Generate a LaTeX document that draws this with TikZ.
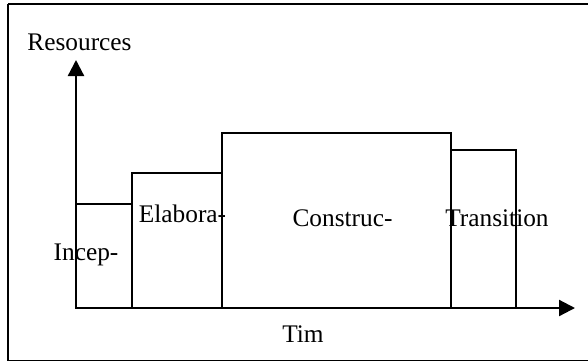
\documentclass[tikz,border=0pt]{standalone}
\usepackage{fontspec}
\setmainfont{Liberation Serif}
\usetikzlibrary{arrows.meta}
\begin{document}
\begin{tikzpicture}[x=0.75pt,y=-0.75pt,
  lbl/.style={anchor=base,inner sep=0pt,font=\fontsize{19}{22}\selectfont},
  phase/.style={draw=black,line width=1.3pt},
  axis/.style={line width=1.7pt,-{Triangle[length=12pt,width=12pt]}}]
\useasboundingbox (0,0) rectangle (588,362);
\begin{scope}
\clip (0,0) rectangle (588,362);
\draw[line width=0.9pt] (8,4) -- (8,360.5) -- (600,360.5);
\draw[line width=1.4pt] (600,4) -- (7.5,4);
\end{scope}
% phase bars
\draw[phase] (76,308) rectangle (132,204);
\draw[phase] (132,308) rectangle (222,173);
\draw[phase] (222,308) rectangle (451,133);
\draw[phase] (451,308) rectangle (516,150);
% axes
\coordinate (o) at (76,308);
\coordinate (ytip) at (76,60);
\coordinate (xtip) at (575,308);
\draw[axis] (o) -- (ytip);
\draw[axis] (o) -- (xtip);
% labels
\node[lbl] (res) at (79.5,50) {Resources};
\node[lbl] (inc) at (86,260) {Incep-};
\node[lbl] (ela) at (182.5,222) {Elabora-};
\node[lbl] (con) at (342.5,226) {Construc-};
\node[lbl] (tra) at (497,226) {Transition};
\node[lbl] (tim) at (303,342) {Tim};
\end{tikzpicture}
\end{document}
